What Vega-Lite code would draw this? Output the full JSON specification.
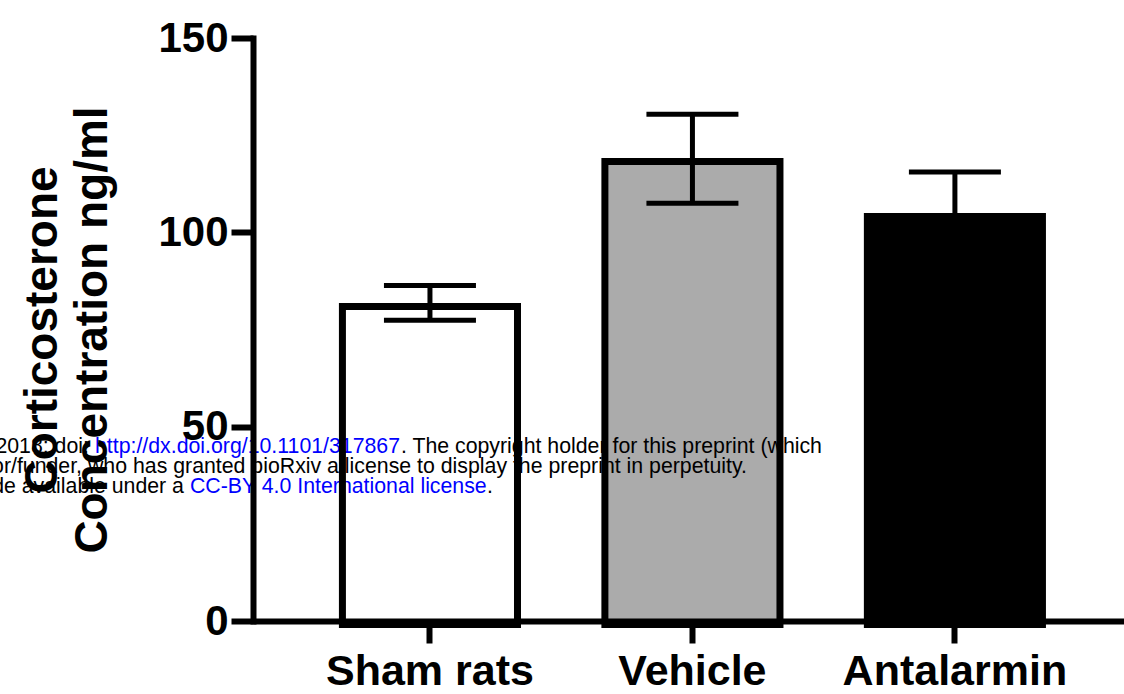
{
  "$schema": "https://vega.github.io/schema/vega-lite/v6.json",
  "width": 871,
  "height": 583,
  "autosize": {"type": "none"},
  "padding": {"left": 253, "top": 38, "right": 0, "bottom": 73},
  "background": "white",
  "config": {"view": {"stroke": null}, "font": "Liberation Sans"},
  "data": {"values": [
    {"group": "Sham rats", "mean": 81.8, "low": 77.4, "high": 86.3},
    {"group": "Vehicle", "mean": 119.1, "low": 107.5, "high": 130.4},
    {"group": "Antalarmin", "mean": 105.0, "low": 94.5, "high": 115.5}
  ]},
  "encoding": {
    "x": {
      "field": "group", "type": "nominal",
      "sort": ["Sham rats", "Vehicle", "Antalarmin"],
      "scale": {"paddingInner": 0.333, "paddingOuter": 0.3257, "align": 0.523},
      "axis": {
        "title": null, "labelAngle": 0, "labelFont": "Liberation Sans", "labelFontWeight": "bold",
        "labelFontSize": 43, "labelColor": "black", "labelPadding": 7, "labelLimit": 500,
        "tickSize": 22, "tickWidth": 6, "tickColor": "black",
        "domainColor": "black", "domainWidth": 6, "zindex": 1
      }
    },
    "y": {
      "field": "mean", "type": "quantitative",
      "scale": {"domain": [0, 150], "nice": false},
      "axis": {
        "values": [0, 50, 100, 150], "grid": false,
        "title": ["Corticosterone", "Concentration ng/ml"],
        "titleFont": "Liberation Sans", "titleFontSize": 46, "titleFontWeight": "bold", "titleColor": "black",
        "titleLineHeight": 50, "titlePadding": 41,
        "labelFont": "Liberation Sans", "labelFontSize": 42, "labelFontWeight": "bold", "labelColor": "black", "labelPadding": 3,
        "tickSize": 22, "tickWidth": 6, "tickColor": "black",
        "domainColor": "black", "domainWidth": 6, "domainCap": "square", "zindex": 1
      }
    }
  },
  "layer": [
    {
      "mark": {"type": "bar", "strokeWidth": 0, "yOffset": 3.5},
      "encoding": {
        "color": {"field": "group", "type": "nominal",
          "scale": {"domain": ["Sham rats", "Vehicle", "Antalarmin"], "range": ["#ffffff", "#ababab", "#000000"]},
          "legend": null}
      }
    },
    {
      "transform": [{"filter": "datum.group === 'Sham rats'"}],
      "layer": [
        {
          "mark": {"type": "text", "align": "right", "baseline": "alphabetic", "fontSize": 21.3, "color": "black", "dx": -341, "dy": 26.3},
          "encoding": {"y": {"datum": 50}, "text": {"value": "2018; doi:"}}
        },
        {
          "mark": {"type": "text", "align": "left", "baseline": "alphabetic", "fontSize": 21.3, "color": "#0000ff", "dx": -335, "dy": 26.3},
          "encoding": {"y": {"datum": 50}, "text": {"value": "http://dx.doi.org/10.1101/317867"}}
        },
        {
          "mark": {"type": "text", "align": "left", "baseline": "alphabetic", "fontSize": 21.3, "color": "black", "dx": -29, "dy": 26.3},
          "encoding": {"y": {"datum": 50}, "text": {"value": ". The copyright holder for this preprint (which"}}
        },
        {
          "mark": {"type": "text", "align": "right", "baseline": "alphabetic", "fontSize": 21.3, "color": "black", "dx": 317, "dy": 46.3},
          "encoding": {"y": {"datum": 50}, "text": {"value": "is the author/funder, who has granted bioRxiv a license to display the preprint in perpetuity."}}
        },
        {
          "mark": {"type": "text", "align": "right", "baseline": "alphabetic", "fontSize": 21.3, "color": "black", "dx": -246, "dy": 66.3},
          "encoding": {"y": {"datum": 50}, "text": {"value": "It is made available under a"}}
        },
        {
          "mark": {"type": "text", "align": "left", "baseline": "alphabetic", "fontSize": 21.3, "color": "#0000ff", "dx": -240, "dy": 66.3},
          "encoding": {"y": {"datum": 50}, "text": {"value": "CC-BY 4.0 International license"}}
        },
        {
          "mark": {"type": "text", "align": "left", "baseline": "alphabetic", "fontSize": 21.3, "color": "black", "dx": 57, "dy": 66.3},
          "encoding": {"y": {"datum": 50}, "text": {"value": "."}}
        }
      ]
    },
    {
      "mark": {"type": "bar", "fillOpacity": 0, "stroke": "black", "strokeWidth": 7, "yOffset": 3.5},
      "encoding": {}
    },
    {
      "mark": {"type": "rule", "color": "black", "strokeWidth": 5},
      "encoding": {"y": {"field": "low", "type": "quantitative"}, "y2": {"field": "high"}}
    },
    {
      "mark": {"type": "tick", "color": "black", "size": 92, "thickness": 5, "opacity": 1},
      "encoding": {"y": {"field": "high", "type": "quantitative"}}
    },
    {
      "mark": {"type": "tick", "color": "black", "size": 92, "thickness": 5, "opacity": 1},
      "encoding": {"y": {"field": "low", "type": "quantitative"}}
    }
  ]
}
